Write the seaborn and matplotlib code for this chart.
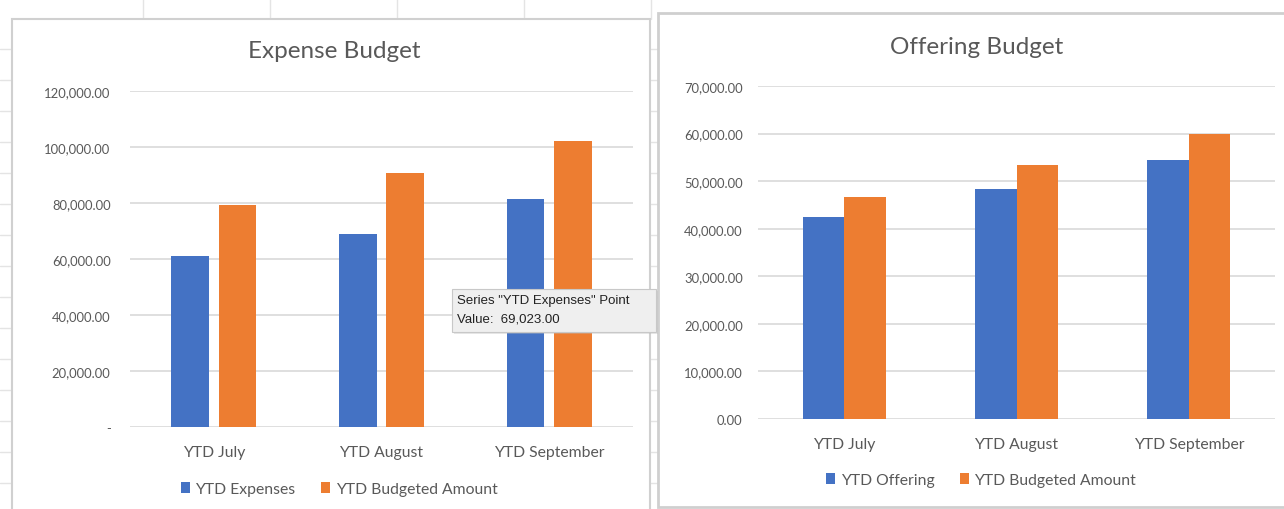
import pandas as pd
import matplotlib
matplotlib.use("Agg")
import matplotlib.pyplot as plt
import seaborn as sns
from matplotlib.patches import Rectangle
from matplotlib.lines import Line2D
from matplotlib.ticker import FuncFormatter

months = ["YTD July", "YTD August", "YTD September"]
expenses = [61100, 69023, 81400]
expense_budget = [79300, 90700, 102100]
offering = [42500, 48400, 54400]
offering_budget = [46600, 53300, 59900]

BLUE = "#4472C4"
ORANGE = "#ED7D31"
TEXT = "#595959"
GRID = "#D9D9D9"

W, H = 1284, 510


def fx(px):
    return px / W


def fy(py):
    return 1 - py / H


def long_df(a, b, name_a, name_b):
    return pd.DataFrame({
        "month": months * 2,
        "value": a + b,
        "series": [name_a] * len(months) + [name_b] * len(months),
    })


def money(v, pos, dash_zero=False):
    if v == 0 and dash_zero:
        return "-"
    return f"{v:,.2f}"


def style_axis(ax, ymax, step, dash_zero, ypad):
    ax.set_ylim(0, ymax)
    ax.set_yticks(range(0, ymax + 1, step))
    ax.yaxis.set_major_formatter(FuncFormatter(lambda v, p: money(v, p, dash_zero)))
    ax.set_xlabel("")
    ax.set_ylabel("")
    ax.grid(axis="y", color=GRID, linewidth=1.2)
    ax.grid(axis="x", visible=False)
    ax.set_axisbelow(True)
    for s in ax.spines.values():
        s.set_visible(False)
    ax.tick_params(axis="both", length=0, colors=TEXT)
    ax.tick_params(axis="y", pad=ypad, labelsize=9.4)
    ax.tick_params(axis="x", pad=13, labelsize=11.3)
    ax.set_facecolor("none")


def add_legend(ax, cx, cy):
    ax.legend(loc="center", frameon=False, ncol=2, fontsize=11.3, handlelength=0.6,
              handleheight=0.7, handletextpad=0.35, columnspacing=1.6, labelcolor=TEXT)
    ax.get_legend().set_bbox_to_anchor((fx(cx), fy(cy)), transform=fig.transFigure)


sns.set_style("white")
plt.rcParams["font.family"] = ["Lato", "DejaVu Sans"]

fig = plt.figure(figsize=(W / 100, H / 100), dpi=100)
fig.patch.set_facecolor("white")

# spreadsheet grid behind the charts
for x in [143, 270, 397, 524, 651]:
    fig.add_artist(Line2D([fx(x), fx(x)], [fy(0), fy(20)], color="#E4E4E4", lw=1, zorder=-3))
for y in range(50, 500, 31):
    fig.add_artist(Line2D([0, fx(12)], [fy(y), fy(y)], color="#E4E4E4", lw=1, zorder=-3))
    fig.add_artist(Line2D([fx(650), fx(658)], [fy(y), fy(y)], color="#E4E4E4", lw=1, zorder=-3))

# chart panels
fig.add_artist(Rectangle((fx(12), fy(515)), fx(638), 495 / H, transform=fig.transFigure,
                         facecolor="white", edgecolor="#D0D0D0", lw=1.5, zorder=-2))
fig.add_artist(Rectangle((fx(658), fy(508)), fx(630), 494 / H, transform=fig.transFigure,
                         facecolor="white", edgecolor="#CFCFCF", lw=2, zorder=-2))

# left chart
ax1 = fig.add_axes([fx(130), fy(428), fx(503), 336 / H])
df1 = long_df(expenses, expense_budget, "YTD Expenses", "YTD Budgeted Amount")
sns.barplot(data=df1, x="month", y="value", hue="series", palette=[BLUE, ORANGE],
            width=0.565, gap=0.2, saturation=1, linewidth=0, ax=ax1, errorbar=None)
style_axis(ax1, 120000, 20000, True, 14)
ax1.set_xlim(-0.5, 2.5)
fig.text(fx(334), fy(52), "Expense Budget", ha="center", va="center", fontsize=17.5, color=TEXT)
add_legend(ax1, 339, 490)

# right chart
ax2 = fig.add_axes([fx(758), fy(420), fx(517), 333 / H])
df2 = long_df(offering, offering_budget, "YTD Offering", "YTD Budgeted Amount")
sns.barplot(data=df2, x="month", y="value", hue="series", palette=[BLUE, ORANGE],
            width=0.48, gap=0, saturation=1, linewidth=0, ax=ax2, errorbar=None)
style_axis(ax2, 70000, 10000, False, 11)
ax2.set_xlim(-0.5, 2.5)
fig.text(fx(977), fy(47), "Offering Budget", ha="center", va="center", fontsize=17.5, color=TEXT)
add_legend(ax2, 981, 481)

# hover tooltip over the August expense bar
fig.add_artist(Rectangle((fx(454), fy(335)), fx(204), 43 / H, transform=fig.transFigure,
                         facecolor="#BBBBBB", edgecolor="none", alpha=0.35, zorder=4))
fig.add_artist(Rectangle((fx(452), fy(333)), fx(204), 43 / H, transform=fig.transFigure,
                         facecolor="#EFEFEF", edgecolor="#C8C8C8", lw=0.8, zorder=5))
fig.text(fx(457), fy(301), 'Series "YTD Expenses" Point', fontsize=9.5, color="#222222",
         va="center", family=["Liberation Sans", "DejaVu Sans"], zorder=6)
fig.text(fx(457), fy(320), f"Value:  {expenses[1]:,.2f}", fontsize=9.5, color="#222222",
         va="center", family=["Liberation Sans", "DejaVu Sans"], zorder=6)

fig.savefig("out.png", dpi=100)
